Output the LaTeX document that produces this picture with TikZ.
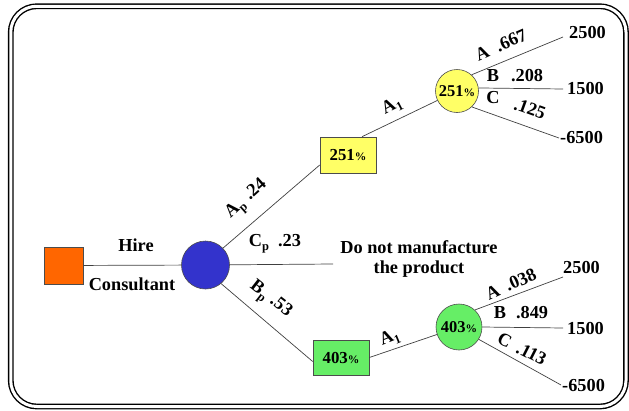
\documentclass[tikz,border=0pt]{standalone}
\usepackage{fontspec}
\setmainfont{Liberation Serif}
\definecolor{orangeA}{RGB}{255,102,0}
\definecolor{blueA}{RGB}{51,51,204}
\definecolor{yellowA}{RGB}{255,255,102}
\definecolor{greenA}{RGB}{102,238,102}
\newcommand\mysub[1]{\raisebox{-4pt}{\fontsize{12.5}{12.5}\selectfont #1}}
\newcommand\pct{{\fontsize{11.5}{11.5}\selectfont\%}}
\begin{document}
\begin{tikzpicture}[x=1pt,y=-1pt,
  every node/.style={font=\bfseries\fontsize{18.3}{20}\selectfont, inner sep=0pt},
  conn/.style={draw=black!75, line width=0.7pt},
  dbox/.style={draw=black!70, line width=0.6pt, minimum width=56pt, minimum height=36pt,
               font=\bfseries\fontsize{16.8}{18}\selectfont},
  chance/.style={circle, draw=black!70, line width=0.6pt,
               font=\bfseries\fontsize{16.5}{18}\selectfont},
  val/.style={anchor=west},
  frame/.style={draw=black, line width=1.4pt, double=white, double distance=3pt, rounded corners=26pt}]
\useasboundingbox (0,0) rectangle (629,410);
\path[frame] (10.75,6.25) rectangle (626,406.5);

% decision and chance nodes
\node[dbox, fill=orangeA, minimum width=39pt, minimum height=37pt] (sq) at (63.5,265.5) {};
\node[chance, fill=blueA, minimum size=48pt] (blue) at (205.5,265) {};
\node[dbox, fill=yellowA] (ybox) at (348,155) {\raisebox{-5pt}{251\pct}};
\node[chance, fill=yellowA, minimum size=43pt] (yc) at (457,91) {251\pct};
\node[dbox, fill=greenA, minimum height=35pt] (gbox) at (341,357.5) {\raisebox{-4pt}{403\pct}};
\node[chance, fill=greenA, minimum size=46pt] (gc) at (459,327) {403\pct};

% outcome values
\node[val] (v1) at (569,33) {2500};
\node[val] (v2) at (567,89) {1500};
\node[val] (v3) at (560,138) {-6500};
\node[val] (w1) at (563,267) {2500};
\node[val] (w2) at (567,328) {1500};
\node[val] (w3) at (562,385) {-6500};

\node[align=center] (dn) at (419,259) {Do not manufacture\\the product};
\coordinate (dnend) at (333,264);

% connectors
\draw[conn] (sq) -- (blue);
\draw[conn] (blue) -- (dnend);
\draw[conn] (blue.44) -- ([yshift=-10pt]ybox.west);
\draw[conn] ([xshift=14pt]ybox.north) -- (yc);
\draw[conn] (blue.-50) -- ([yshift=-4pt]gbox.west);
\draw[conn] (gbox.east) -- (gc);
\draw[conn] (yc.48) -- ([xshift=-6pt,yshift=-4pt]v1.west);
\draw[conn] (yc.8) -- ([xshift=-4pt]v2.west);
\draw[conn] (yc.-47) -- ([xshift=-1pt]v3.west);
\draw[conn] (gc.47) -- ([yshift=-10pt]w1.west);
\draw[conn] (gc.0) -- ([xshift=-4pt]w2.west);
\draw[conn] (gc.-32) -- ([xshift=-1pt]w3.west);

% labels
\node (hire) at (136,245) {Hire};
\node (cons) at (132,284) {Consultant};
\node (cp) at (275,244) {C\mysub{p}\hspace{9pt}.23};
\node[rotate=42] (ap) at (247,200) {A\mysub{p}\hspace{6pt}.24};
\node[rotate=-38] (bp) at (270,300) {B\mysub{p}\hspace{6pt}.53};
\node[rotate=27] (a1u) at (392,106) {A\mysub{1}};
\node[rotate=22] (a1l) at (390,338) {A\mysub{1}};
\node[rotate=24] (la1) at (501,45) {A\hspace{9pt}.667};
\node (lb1) at (515,76) {B\hspace{12pt}.208};
\node (lc1) at (493,98) {C};
\node[rotate=-20] (lc1p) at (530,109) {.125};
\node[rotate=24] (la2) at (511,284) {A\hspace{8pt}.038};
\node (lb2) at (521,313) {B\hspace{10pt}.849};
\node[rotate=-27] (lc2) at (522,349) {C\hspace{8pt}.113};
\end{tikzpicture}
\end{document}
